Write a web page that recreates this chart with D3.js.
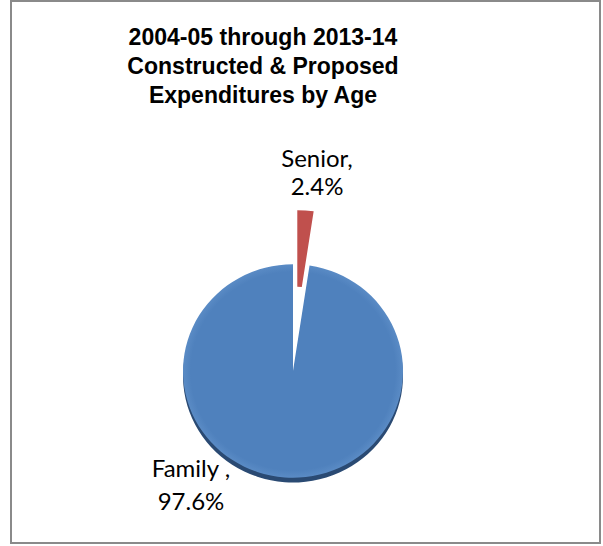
<!DOCTYPE html>
<html>
<head>
<meta charset="utf-8">
<script src="https://cdn.jsdelivr.net/npm/d3@7"></script>
<style>
  body { margin: 0; background: #fff; }
  text { font-family: "Liberation Sans", Arial, sans-serif; }
  .lbl { font-family: Lato, "Noto Sans", sans-serif; font-size: 24px; fill: #000; }
</style>
</head>
<body>
<div id="chart"></div>
<script>
// chart size
const width = 603;
const height = 546;

// data
const categories = ["Senior", "Family"];
const shares = [2.4, 97.6];
const colors = ["#C0504D", "#4F81BD"];
const titleLines = ["2004-05 through 2013-14", "Constructed & Proposed", "Expenditures by Age"];

const svg = d3.select("#chart")
  .append("svg")
  .attr("width", width)
  .attr("height", height);

// outer frame
svg.append("rect")
  .attr("x", 11).attr("y", 1)
  .attr("width", 589).attr("height", 542)
  .attr("fill", "#fff")
  .attr("stroke", "#8a8a8a")
  .attr("stroke-width", 2);

// title, slightly narrow like the original
svg.append("text")
  .attr("transform", "translate(263,45) scale(0.96,1)")
  .attr("text-anchor", "middle")
  .attr("font-weight", "bold")
  .attr("font-size", "24px")
  .selectAll("tspan")
  .data(titleLines)
  .join("tspan")
    .attr("x", 0)
    .attr("dy", (d, i) => i == 0 ? 0 : 29)
    .text(d => d);

/*
  Pie
*/
const cx = 293, cy = 371, radius = 110;
const explode = 57;

const pieData = d3.pie().sort(null)(shares);

const arcFull = d3.arc().innerRadius(0).outerRadius(radius);
// exploded senior slice, its inner part is hidden in the original
const arcSenior = d3.arc().innerRadius(30).outerRadius(radius - 1);

const g = svg.append("g")
  .attr("transform", `translate(${cx},${cy}) scale(1,0.97)`);

// dark rim underneath the blue slice (3d edge)
g.append("path")
  .attr("d", arcFull(pieData[1]))
  .attr("transform", "translate(0,5)")
  .attr("fill", "#2a4a73");

// blue gradient
const defs = svg.append("defs");
const grad = defs.append("radialGradient")
  .attr("id", "blueGrad")
  .attr("gradientUnits", "userSpaceOnUse")
  .attr("cx", 0).attr("cy", 0).attr("r", radius);
grad.append("stop").attr("offset", "0.93").attr("stop-color", colors[1]);
grad.append("stop").attr("offset", "1").attr("stop-color", "#5a8bc5");

g.append("path")
  .attr("d", arcFull(pieData[1]))
  .attr("fill", "url(#blueGrad)");

const mid = (pieData[0].startAngle + pieData[0].endAngle) / 2;
g.append("path")
  .attr("d", arcSenior(pieData[0]))
  .attr("transform", `translate(${Math.sin(mid) * explode},${-Math.cos(mid) * explode})`)
  .attr("fill", colors[0]);

/*
  Labels
*/
const labelPos = [
  {x: 317, y: 167, gap: 28},
  {x: 191, y: 477, gap: 33}
];

categories.forEach((c, i) => {
  const sep = c == "Family" ? " ," : ",";
  const t = svg.append("text")
    .attr("class", "lbl")
    .attr("text-anchor", "middle")
    .attr("x", labelPos[i].x)
    .attr("y", labelPos[i].y);
  t.append("tspan").attr("x", labelPos[i].x).text(c + sep);
  t.append("tspan").attr("x", labelPos[i].x).attr("dy", labelPos[i].gap).text(shares[i].toFixed(1) + "%");
});
</script>
</body>
</html>
